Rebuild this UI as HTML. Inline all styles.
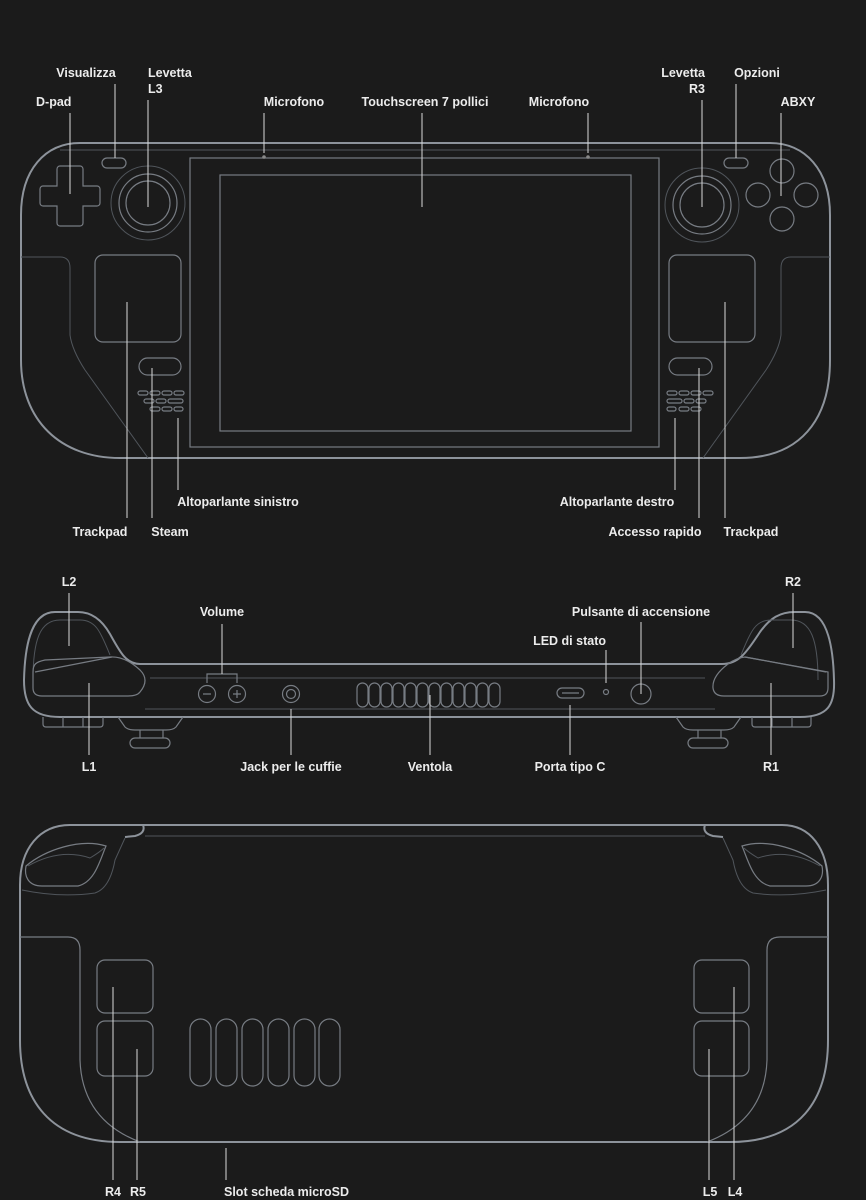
<!DOCTYPE html>
<html><head><meta charset="utf-8"><style>
html,body{margin:0;padding:0;background:#1b1b1b;}
svg{display:block}
text{font-family:"Liberation Sans",sans-serif;font-weight:bold;font-size:12.5px;fill:#ececec}
.o{fill:none;stroke:#8d939b;stroke-width:2}
.i{fill:none;stroke:#50555b;stroke-width:1}
.c{fill:none;stroke:#777c83;stroke-width:1.2}
.l{stroke:#d8d8d8;stroke-width:1}
</style></head><body>
<svg width="866" height="1200" viewBox="0 0 866 1200" xmlns="http://www.w3.org/2000/svg">
<rect width="866" height="1200" fill="#1b1b1b"/>

<!-- FRONT VIEW -->
<path class="o" d="M80,143 L770,143 C805,143 830,170 830,215 L830,360 C830,420 800,458 740,458 L120,458 C60,458 21,420 21,360 L21,215 C21,170 45,143 80,143 Z"/>
<path class="i" d="M60,150 L790,150"/>
<path class="i" d="M21,257 L60,257 Q70,257 70,268 L70,335 Q72,350 85,370 L148,458"/>
<path class="i" d="M830,257 L791,257 Q781,257 781,268 L781,335 Q779,350 766,370 L703,458"/>
<rect class="c" x="190" y="158" width="469" height="289"/>
<rect class="c" x="220" y="175" width="411" height="256"/>
<circle cx="264" cy="157" r="1.8" fill="#888"/>
<circle cx="588" cy="157" r="1.8" fill="#888"/>
<path class="c" d="M60,166 h20 a3,3 0 0 1 3,3 v17 h14 a3,3 0 0 1 3,3 v14 a3,3 0 0 1 -3,3 h-14 v17 a3,3 0 0 1 -3,3 h-20 a3,3 0 0 1 -3,-3 v-17 h-14 a3,3 0 0 1 -3,-3 v-14 a3,3 0 0 1 3,-3 h14 v-17 a3,3 0 0 1 3,-3 z"/>
<rect class="c" x="102" y="158" width="24" height="10" rx="5"/>
<circle class="i" cx="148" cy="203" r="37"/>
<circle class="c" cx="148" cy="203" r="29"/>
<circle class="c" cx="148" cy="203" r="22"/>
<rect class="c" x="95" y="255" width="86" height="87" rx="8"/>
<rect class="c" x="139" y="358" width="42" height="17" rx="8.5"/>
<g class="c">
<rect x="138" y="391" width="10" height="4" rx="2"/><rect x="150" y="391" width="10" height="4" rx="2"/><rect x="162" y="391" width="10" height="4" rx="2"/><rect x="174" y="391" width="10" height="4" rx="2"/>
<rect x="144" y="399" width="10" height="4" rx="2"/><rect x="156" y="399" width="10" height="4" rx="2"/><rect x="168" y="399" width="15" height="4" rx="2"/>
<rect x="150" y="407" width="10" height="4" rx="2"/><rect x="162" y="407" width="10" height="4" rx="2"/><rect x="174" y="407" width="9" height="4" rx="2"/>
</g>
<rect class="c" x="724" y="158" width="24" height="10" rx="5"/>
<circle class="i" cx="702" cy="205" r="37"/>
<circle class="c" cx="702" cy="205" r="29"/>
<circle class="c" cx="702" cy="205" r="22"/>
<circle class="c" cx="782" cy="171" r="12"/>
<circle class="c" cx="758" cy="195" r="12"/>
<circle class="c" cx="806" cy="195" r="12"/>
<circle class="c" cx="782" cy="219" r="12"/>
<rect class="c" x="669" y="255" width="86" height="87" rx="8"/>
<rect class="c" x="669" y="358" width="43" height="17" rx="8.5"/>
<g class="c">
<rect x="667" y="391" width="10" height="4" rx="2"/><rect x="679" y="391" width="10" height="4" rx="2"/><rect x="691" y="391" width="10" height="4" rx="2"/><rect x="703" y="391" width="10" height="4" rx="2"/>
<rect x="667" y="399" width="15" height="4" rx="2"/><rect x="684" y="399" width="10" height="4" rx="2"/><rect x="696" y="399" width="10" height="4" rx="2"/>
<rect x="667" y="407" width="9" height="4" rx="2"/><rect x="679" y="407" width="10" height="4" rx="2"/><rect x="691" y="407" width="10" height="4" rx="2"/>
</g>
<g class="l">
<line x1="115" y1="84" x2="115" y2="158"/>
<line x1="148" y1="100" x2="148" y2="207"/>
<line x1="70" y1="113" x2="70" y2="194"/>
<line x1="264" y1="113" x2="264" y2="153"/>
<line x1="422" y1="113" x2="422" y2="207"/>
<line x1="588" y1="113" x2="588" y2="153"/>
<line x1="702" y1="100" x2="702" y2="207"/>
<line x1="736" y1="84" x2="736" y2="158"/>
<line x1="781" y1="113" x2="781" y2="196"/>
<line x1="127" y1="302" x2="127" y2="518"/>
<line x1="152" y1="368" x2="152" y2="518"/>
<line x1="178" y1="418" x2="178" y2="490"/>
<line x1="675" y1="418" x2="675" y2="490"/>
<line x1="699" y1="368" x2="699" y2="518"/>
<line x1="725" y1="302" x2="725" y2="518"/>
</g>
<text x="86" y="77" text-anchor="middle">Visualizza</text>
<text x="148" y="77">Levetta</text>
<text x="148" y="93">L3</text>
<text x="36" y="106">D-pad</text>
<text x="294" y="106" text-anchor="middle">Microfono</text>
<text x="425" y="106" text-anchor="middle">Touchscreen 7 pollici</text>
<text x="559" y="106" text-anchor="middle">Microfono</text>
<text x="705" y="77" text-anchor="end">Levetta</text>
<text x="705" y="93" text-anchor="end">R3</text>
<text x="757" y="77" text-anchor="middle">Opzioni</text>
<text x="798" y="106" text-anchor="middle">ABXY</text>
<text x="100" y="536" text-anchor="middle">Trackpad</text>
<text x="170" y="536" text-anchor="middle">Steam</text>
<text x="238" y="506" text-anchor="middle">Altoparlante sinistro</text>
<text x="617" y="506" text-anchor="middle">Altoparlante destro</text>
<text x="655" y="536" text-anchor="middle">Accesso rapido</text>
<text x="751" y="536" text-anchor="middle">Trackpad</text>

<!-- TOP VIEW -->
<path class="o" d="M140,664 L722,664 C740,664 748,650 760,632 C770,618 780,612 795,612 L805,612 C825,612 833,640 834,680 C835,705 828,717 800,717 L60,717 C32,717 24,705 24,680 C25,640 33,612 55,612 L78,612 C92,612 102,620 110,634 C120,652 126,664 140,664 Z"/>
<path class="i" d="M150,678 L705,678 M145,709 L715,709"/>
<path class="i" d="M33,680 C33,640 40,620 60,620 L80,620 C95,620 100,630 110,655"/>
<path class="c" d="M35,672 L112,657"/>
<path class="c" d="M33,672 C33,664 36,662 45,660 L110,657 Q125,656 140,670 Q150,680 140,692 Q137,696 128,696 L42,696 Q33,696 33,688 Z"/>
<path class="i" d="M818,680 C818,640 811,620 791,620 L771,620 C756,620 751,630 741,655"/>
<path class="c" d="M745,657 L826,672"/>
<path class="c" d="M828,672 L828,688 Q828,696 820,696 L724,696 Q714,696 713,688 Q712,676 728,664 Q736,658 745,657 Z"/>
<path class="c" d="M43,717 L43,724 Q43,727 46,727 L100,727 Q103,727 103,724 L103,717 M63,717 V727 M83,717 V727"/>
<path class="c" d="M118,717 L125,727 Q128,730 135,730 L166,730 Q173,730 176,727 L183,717"/>
<path class="c" d="M140,730 V738 M163,730 V738"/>
<rect class="c" x="130" y="738" width="40" height="10" rx="5"/>
<path class="c" d="M752,717 L752,724 Q752,727 755,727 L808,727 Q811,727 811,724 L811,717 M772,717 V727 M792,717 V727"/>
<path class="c" d="M676,717 L683,727 Q686,730 693,730 L724,730 Q731,730 734,727 L741,717"/>
<path class="c" d="M698,730 V738 M721,730 V738"/>
<rect class="c" x="688" y="738" width="40" height="10" rx="5"/>
<path class="c" d="M207,683 V674 H237 V683"/>
<circle class="c" cx="207" cy="694" r="8.5"/>
<circle class="c" cx="237" cy="694" r="8.5"/>
<path class="c" d="M203,694 h8 M233,694 h8 M237,690 v8"/>
<circle class="c" cx="291" cy="694" r="8.5"/>
<circle class="c" cx="291" cy="694" r="4.5"/>
<g class="c">
<rect x="357" y="683" width="11" height="24" rx="5.5"/><rect x="369" y="683" width="11" height="24" rx="5.5"/><rect x="381" y="683" width="11" height="24" rx="5.5"/><rect x="393" y="683" width="11" height="24" rx="5.5"/><rect x="405" y="683" width="11" height="24" rx="5.5"/><rect x="417" y="683" width="11" height="24" rx="5.5"/><rect x="429" y="683" width="11" height="24" rx="5.5"/><rect x="441" y="683" width="11" height="24" rx="5.5"/><rect x="453" y="683" width="11" height="24" rx="5.5"/><rect x="465" y="683" width="11" height="24" rx="5.5"/><rect x="477" y="683" width="11" height="24" rx="5.5"/><rect x="489" y="683" width="11" height="24" rx="5.5"/>
</g>
<rect class="c" x="557" y="688" width="27" height="10" rx="5"/>
<path class="c" d="M562,693 h17"/>
<circle class="c" cx="606" cy="692" r="2.5"/>
<circle class="c" cx="641" cy="694" r="10"/>
<g class="l">
<line x1="69" y1="593" x2="69" y2="646"/>
<line x1="89" y1="683" x2="89" y2="755"/>
<line x1="222" y1="624" x2="222" y2="674"/>
<line x1="291" y1="709" x2="291" y2="755"/>
<line x1="430" y1="695" x2="430" y2="755"/>
<line x1="570" y1="705" x2="570" y2="755"/>
<line x1="606" y1="650" x2="606" y2="683"/>
<line x1="641" y1="622" x2="641" y2="694"/>
<line x1="793" y1="593" x2="793" y2="648"/>
<line x1="771" y1="683" x2="771" y2="755"/>
</g>
<text x="69" y="586" text-anchor="middle">L2</text>
<text x="89" y="771" text-anchor="middle">L1</text>
<text x="222" y="616" text-anchor="middle">Volume</text>
<text x="291" y="771" text-anchor="middle">Jack per le cuffie</text>
<text x="430" y="771" text-anchor="middle">Ventola</text>
<text x="570" y="771" text-anchor="middle">Porta tipo C</text>
<text x="606" y="645" text-anchor="end">LED di stato</text>
<text x="641" y="616" text-anchor="middle">Pulsante di accensione</text>
<text x="793" y="586" text-anchor="middle">R2</text>
<text x="771" y="771" text-anchor="middle">R1</text>

<!-- BACK VIEW -->
<path class="o" d="M143,825 L782,825 C810,825 828,848 828,885 L828,1040 C828,1100 800,1142 730,1142 L120,1142 C50,1142 20,1100 20,1040 L20,885 C20,848 40,825 70,825 Z"/>
<path class="o" d="M143,825 Q146,833 135,836 L125,837"/>
<path class="o" d="M705,825 Q702,833 713,836 L723,837"/>
<path class="i" d="M145,836 L705,836"/>
<path class="c" d="M106,846 C100,860 95,882 78,886 L42,886 C28,886 24,876 26,866 C45,850 80,838 106,846 Z"/>
<path class="i" d="M28,866 Q60,848 90,858 Q100,852 104,848"/>
<path class="i" d="M22,890 Q60,898 95,893 Q110,888 115,860 L125,838"/>
<path class="c" d="M742,846 C748,860 753,882 770,886 L806,886 C820,886 824,876 822,866 C803,850 768,838 742,846 Z"/>
<path class="i" d="M820,866 Q788,848 758,858 Q748,852 744,848"/>
<path class="i" d="M826,890 Q788,898 753,893 Q738,888 733,860 L723,838"/>
<path class="c" d="M20,937 L68,937 Q80,937 80,950 L80,1060 Q82,1120 140,1142"/>
<path class="c" d="M828,937 L780,937 Q767,937 767,950 L767,1060 Q765,1120 707,1142"/>
<rect class="c" x="97" y="960" width="56" height="53" rx="8"/>
<rect class="c" x="97" y="1021" width="56" height="55" rx="8"/>
<rect class="c" x="694" y="960" width="55" height="53" rx="8"/>
<rect class="c" x="694" y="1021" width="55" height="55" rx="8"/>
<g class="c">
<rect x="190" y="1019" width="21" height="67" rx="10.5"/><rect x="216" y="1019" width="21" height="67" rx="10.5"/><rect x="242" y="1019" width="21" height="67" rx="10.5"/><rect x="268" y="1019" width="21" height="67" rx="10.5"/><rect x="294" y="1019" width="21" height="67" rx="10.5"/><rect x="319" y="1019" width="21" height="67" rx="10.5"/>
</g>
<g class="l">
<line x1="113" y1="987" x2="113" y2="1180"/>
<line x1="137" y1="1049" x2="137" y2="1180"/>
<line x1="226" y1="1148" x2="226" y2="1180"/>
<line x1="709" y1="1049" x2="709" y2="1180"/>
<line x1="734" y1="987" x2="734" y2="1180"/>
</g>
<text x="113" y="1196" text-anchor="middle">R4</text>
<text x="138" y="1196" text-anchor="middle">R5</text>
<text x="224" y="1196">Slot scheda microSD</text>
<text x="710" y="1196" text-anchor="middle">L5</text>
<text x="735" y="1196" text-anchor="middle">L4</text>
</svg>
</body></html>
